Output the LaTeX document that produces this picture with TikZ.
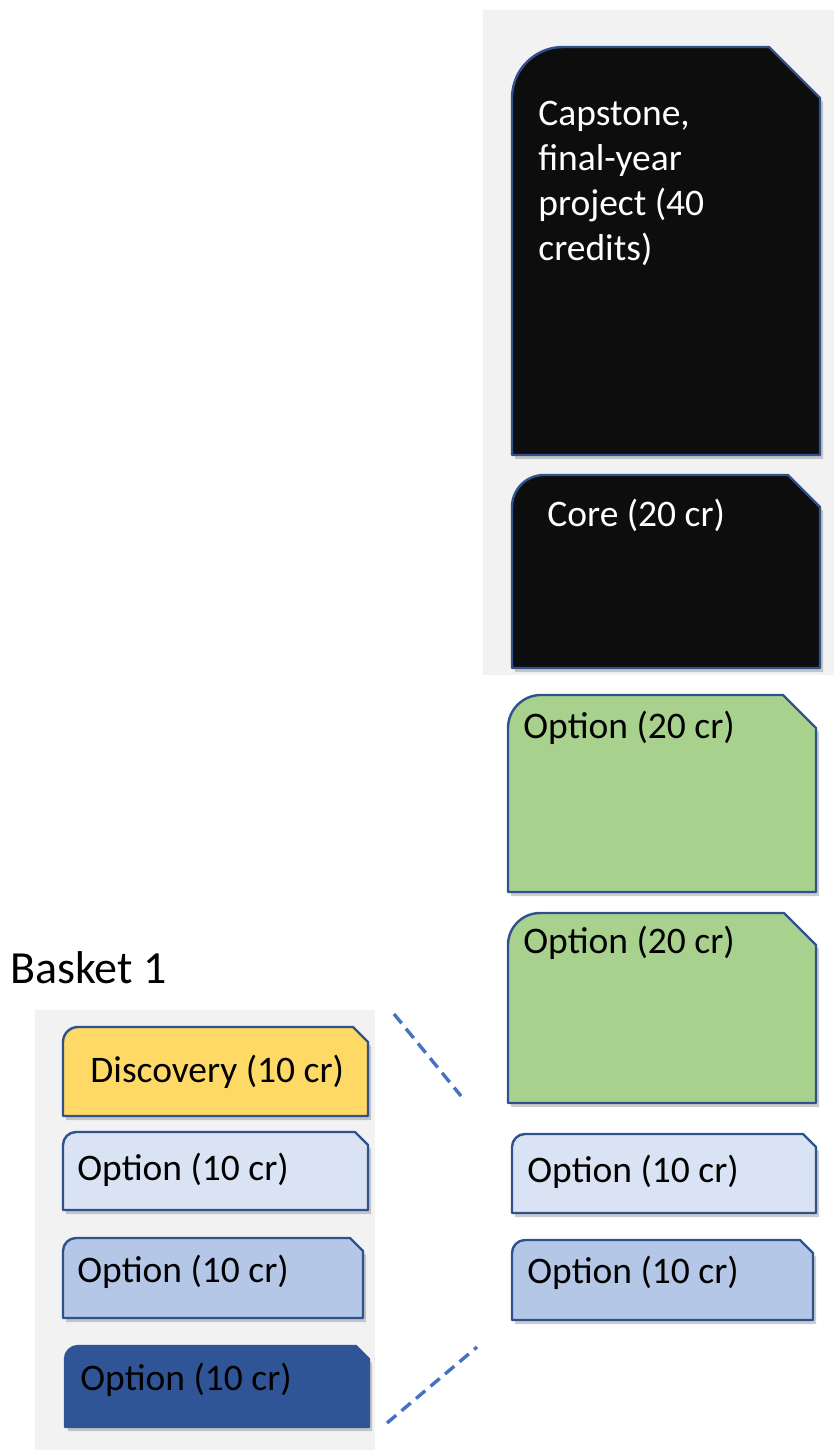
\documentclass[tikz,border=0pt]{standalone}
\usepackage{fontspec}
\setmainfont{Carlito}
\usetikzlibrary{shadows}

\definecolor{panelgray}{HTML}{F2F2F2}
\definecolor{boxline}{HTML}{2F528F}
\definecolor{capblack}{HTML}{0D0D0D}
\definecolor{optgreen}{HTML}{A9D18E}
\definecolor{optlight}{HTML}{DAE3F3}
\definecolor{optmid}{HTML}{B4C7E7}
\definecolor{optdark}{HTML}{2F5597}
\definecolor{discyellow}{HTML}{FFD966}
\definecolor{dashblue}{HTML}{4472C4}

\tikzset{
  coursebox/.style={draw=boxline, line width=1.2pt, line join=round,
    drop shadow={shadow xshift=1.5pt, shadow yshift=-2pt, opacity=0.4}},
  boxlabel/.style={anchor=base west, inner sep=0pt, font=\fontsize{18.75}{22.5}\selectfont},
  gap/.style={draw=dashblue, line width=1.7pt, dash pattern=on 6pt off 3.5pt},
}

% box with round top-left corner and snipped top-right corner
\newcommand{\snipbox}[6]{%
  \draw[coursebox,#1] (#2,#5) -- (#2,#3+#6)
    .. controls (#2,#3+0.448*#6) and (#2+0.448*#6,#3) .. (#2+#6,#3)
    -- (#4-#6,#3) -- (#4,#3+#6) -- (#4,#5) -- cycle;}

\begin{document}
\begin{tikzpicture}[x=0.5pt, y=-0.5pt]
  \useasboundingbox (0,0) rectangle (834,1450);

  % panels
  \fill[panelgray] (483,10) rectangle (834,675);
  \fill[panelgray] (35,1010) rectangle (375,1450);

  % right column
  \snipbox{fill=capblack}{512}{47}{820}{455}{51}
  \snipbox{fill=capblack}{512}{475}{820}{668}{32}
  \snipbox{fill=optgreen}{508}{695}{816}{892}{33}
  \snipbox{fill=optgreen}{508}{913}{816}{1103}{32}
  \snipbox{fill=optlight}{512}{1134}{816}{1213}{13}
  \snipbox{fill=optmid}{512}{1240}{813}{1320}{13}

  \node[boxlabel, anchor=north west, align=left, text=white] (cap) at (538,101)
    {Capstone,\\final-year\\project (40\\credits)};
  \node[boxlabel, text=white] (core) at (547,526) {Core (20 cr)};
  \node[boxlabel] (optA) at (523,738) {Option (20 cr)};
  \node[boxlabel] (optB) at (523,953) {Option (20 cr)};
  \node[boxlabel] (optC) at (527,1182) {Option (10 cr)};
  \node[boxlabel] (optD) at (527,1283) {Option (10 cr)};

  % basket 1
  \node[boxlabel, font=\fontsize{23}{27}\selectfont] (basket) at (10,983) {Basket 1};
  \snipbox{fill=discyellow}{63}{1027}{368}{1116}{15}
  \snipbox{fill=optlight}{63}{1132}{368}{1210}{13}
  \snipbox{fill=optmid}{63}{1238}{363}{1318}{13}
  \snipbox{fill=optdark, draw=optdark}{65}{1346}{369}{1427}{13}

  \node[boxlabel] (disc) at (90,1082) {Discovery (10 cr)};
  \node[boxlabel] (bskA) at (77,1180) {Option (10 cr)};
  \node[boxlabel] (bskB) at (77,1282) {Option (10 cr)};
  \node[boxlabel] (bskC) at (80,1390) {Option (10 cr)};

  % dashed guides
  \coordinate (gapTopA) at (394,1014);
  \coordinate (gapTopB) at (461,1096);
  \coordinate (gapBotA) at (387,1423);
  \coordinate (gapBotB) at (477,1347);
  \draw[gap] (gapTopA) -- (gapTopB);
  \draw[gap] (gapBotA) -- (gapBotB);
\end{tikzpicture}
\end{document}
